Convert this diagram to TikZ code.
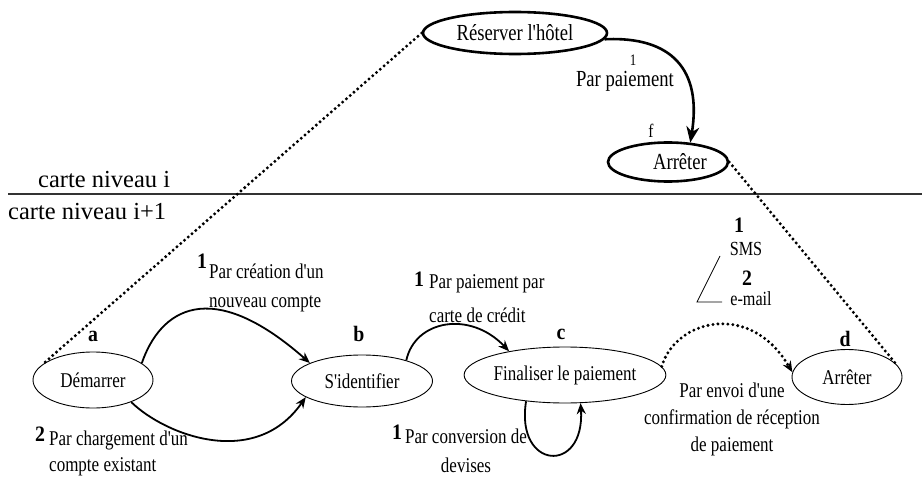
\documentclass[tikz,border=0pt]{standalone}
\usepackage{fontspec}
\setmainfont{Liberation Serif}[Ligatures=TeXOff]
\newfontfamily\cond{Liberation Serif}[FakeStretch=0.81,Ligatures=TeXOff]
\newfontfamily\condb{Liberation Serif}[FakeStretch=0.9,Ligatures=TeXOff]
\usetikzlibrary{shapes.geometric,arrows.meta}
\begin{document}
\begin{tikzpicture}[x=1pt,y=-1pt,
  topst/.style={ellipse,draw,line width=2.6pt,inner sep=0pt,font=\cond\fontsize{23}{24}\selectfont},
  botst/.style={ellipse,draw,line width=0.9pt,inner sep=0pt,font=\cond\fontsize{21}{22}\selectfont},
  lbl/.style={inner sep=0pt,font=\cond\fontsize{21}{22}\selectfont},
  num/.style={inner sep=0pt,anchor=base,font=\condb\fontsize{22}{22}\selectfont\bfseries},
  lett/.style={inner sep=0pt,anchor=base,font=\condb\fontsize{22}{22}\selectfont\bfseries},
  flow/.style={line width=1.8pt,-{Stealth[length=11pt,width=9pt]}},
  dots/.style={line width=3.3pt,line cap=round,dash pattern=on 0pt off 5pt},
]
\path[use as bounding box] (0,0) rectangle (922,479);

% separator
\coordinate (sepL) at (8,194);
\coordinate (sepR) at (922,194);
\draw[line width=1.3pt,black!80] (sepL) -- (sepR);
\node[inner sep=0pt,anchor=base west,font=\fontsize{24.5}{26}\selectfont] (lvi) at (38,187) {carte niveau i};
\node[inner sep=0pt,anchor=base west,font=\fontsize{24.5}{26}\selectfont] (lvi1) at (8,219) {carte niveau i+1};

% top level
\node[topst,minimum width=184pt,minimum height=42pt] (res) at (515,33) {Réserver l'hôtel};
\node[topst,minimum width=120pt,minimum height=39pt] (arrT) at (668,162) {\hspace*{24pt}Arrêter};
\draw[line width=2.6pt,-{Stealth[length=16pt,width=13pt]}] (res.-4) .. controls (672,36) and (702,70) .. (arrT.41);
\node[inner sep=0pt,anchor=base,font=\cond\fontsize{16}{16}\selectfont] (t1) at (633,65) {1};
\node[inner sep=0pt,anchor=base,font=\cond\fontsize{23}{24}\selectfont] (tpp) at (625,86) {Par paiement};
\node[inner sep=0pt,anchor=base,font=\cond\fontsize{19}{20}\selectfont] (tf) at (651,137) {f};

% bottom level
\node[botst,minimum width=120pt,minimum height=56pt] (dem) at (93,380) {Démarrer};
\node[botst,minimum width=141pt,minimum height=52pt] (sid) at (362,381) {S'identifier};
\node[botst,minimum width=186pt,minimum height=56pt] (fin) at (565,375) {Finaliser le paiement};
\node[botst,minimum width=110pt,minimum height=55pt] (arrB) at (847,377) {Arrêter};

\node[lett] (la) at (93,341) {a};
\node[lett] (lb) at (359,341) {b};
\node[lett] (lc) at (561,339) {c};
\node[lett] (ld) at (845,346) {d};

% dotted refinement lines
\draw[dots] (res.west) -- (dem.163);
\draw[dots] (arrT.east) -- (arrB.15);

% connectors
\draw[flow] (dem.19) .. controls (160,310) and (210,275) .. (sid.161);
\draw[flow] (dem.-30) .. controls (165,435) and (255,470) .. (sid.-164);
\draw[flow] (sid.25) .. controls (415,320) and (470,310) .. (fin.157);
\draw[flow] (fin.-146) .. controls (515,470) and (585,475) .. (fin.-61);
\draw[dots,-{Stealth[length=11pt,width=9pt]}] (fin.5) .. controls (675,320) and (750,300) .. (arrB.175);

% labels (anchor = baseline of the last line)
\node[num] (n1a) at (202,268) {1};
\node[lbl,anchor=base west,align=left,font=\cond\fontsize{21}{29}\selectfont] (l1) at (209,307) {Par création d'un\\nouveau compte};
\node[num] (n2) at (40,441) {2};
\node[lbl,anchor=base west,align=left,font=\cond\fontsize{21}{26}\selectfont] (l2) at (49,471) {Par chargement d'un\\compte existant};
\node[num] (n1b) at (419,286) {1};
\node[lbl,anchor=base west,align=left,font=\cond\fontsize{21}{34}\selectfont] (l3) at (429,322) {Par paiement par\\carte de crédit};
\node[num] (n1c) at (397,439) {1};
\node[lbl,anchor=base,align=center,font=\cond\fontsize{21}{29}\selectfont] (l4) at (466,472) {Par conversion de\\devises};
\node[lbl,anchor=base,align=center,font=\cond\fontsize{21}{27}\selectfont] (l5) at (732,451) {Par envoi d'une\\confirmation de réception\\de paiement};

% SMS / e-mail
\node[num] (s1) at (739,232) {1};
\node[lbl,anchor=base,font=\cond\fontsize{20}{22}\selectfont] (sms) at (746,255) {SMS};
\node[num] (s2) at (747,285) {2};
\node[lbl,anchor=base,font=\cond\fontsize{20}{22}\selectfont] (mail) at (751,305) {e-mail};
\coordinate (k1) at (720,256);
\coordinate (k2) at (697,302);
\coordinate (k3) at (722,302);
\draw[line width=0.8pt] (k1) -- (k2) -- (k3);
\end{tikzpicture}
\end{document}
